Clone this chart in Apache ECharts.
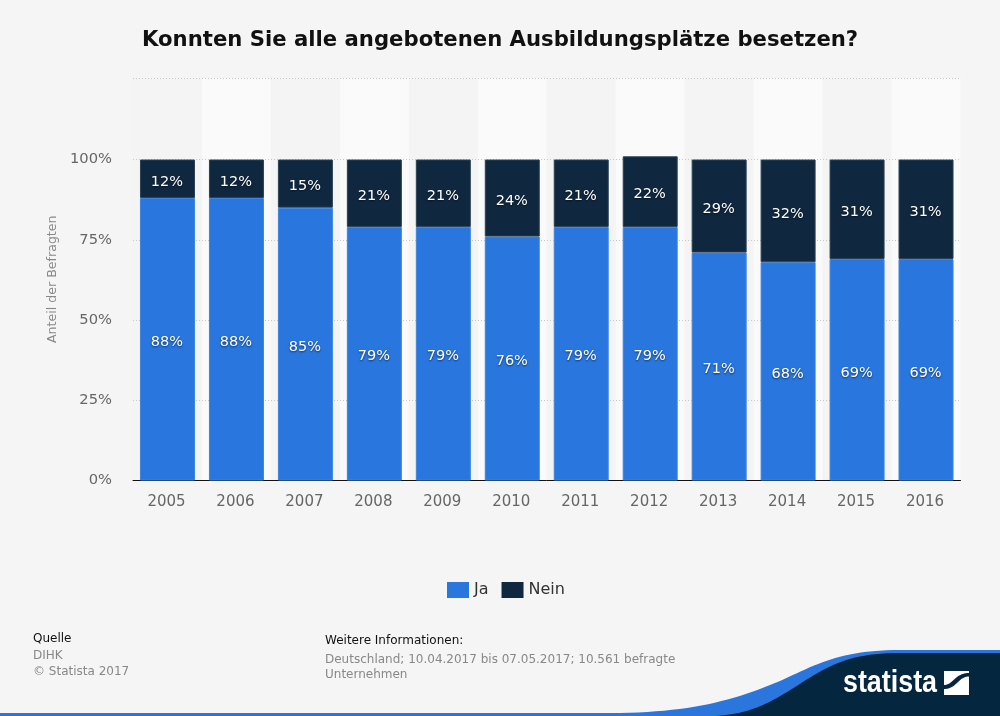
<!DOCTYPE html>
<html>
<head>
<meta charset="utf-8">
<style>
html, body { margin: 0; padding: 0; background: #f5f5f5; }
#main { width: 1000px; height: 716px; }
</style>
<script src="https://cdn.jsdelivr.net/npm/echarts@6/dist/echarts.min.js"></script>
</head>
<body>
<div id="main"></div>
<script>
const years = ['2005', '2006', '2007', '2008', '2009', '2010', '2011', '2012', '2013', '2014', '2015', '2016'];
const ja = [88, 88, 85, 79, 79, 76, 79, 79, 71, 68, 69, 69];
const nein = [12, 12, 15, 21, 21, 24, 21, 22, 29, 32, 31, 31];
const yTicks = [0, 25, 50, 75, 100];

const FONT = '"DejaVu Sans", sans-serif';
const BLUE = '#2976de';
const NAVY = '#10283f';
const FOOTER = '#04263f';

const barLabel = {
	show: true,
	position: 'inside',
	offset: [-0.5, 3],
	color: '#fff',
	fontFamily: FONT,
	fontSize: 14.5,
	textShadowColor: 'rgba(0,0,0,0.6)',
	textShadowBlur: 2,
	textShadowOffsetY: 1,
	formatter: p => p.value + '%'
};

const footText = (x, y, text, color) => ({
	type: 'text',
	x,
	y,
	style: { text, fill: color, font: '12px ' + FONT }
});

// graphic has no path type, so the footer curves are sampled into polygons
const curve = (from, segments) => {
	let pts = [from];
	let p0 = from;
	segments.forEach(([p1, p2, p3]) => {
		for (let i = 1; i <= 24; i++) {
			const t = i / 24, u = 1 - t;
			pts.push([
				u * u * u * p0[0] + 3 * u * u * t * p1[0] + 3 * u * t * t * p2[0] + t * t * t * p3[0],
				u * u * u * p0[1] + 3 * u * u * t * p1[1] + 3 * u * t * t * p2[1] + t * t * t * p3[1]
			]);
		}
		p0 = p3;
	});
	return pts;
};

const blueEdge = curve([610, 713], [
	[[690, 713], [735, 700], [780, 681]],
	[[815, 665], [840, 650], [900, 650]]
]);
const navyEdge = curve([715, 716], [
	[[750, 714], [770, 703], [795, 687]],
	[[825, 668], [845, 653], [900, 653]]
]);
const swoosh = curve([944, 685], [[[953, 685], [955, 673], [969, 673]]])
	.concat(curve([969, 676.5], [[[958, 676.5], [957, 689], [944, 689]]]));

const chart = echarts.init(document.getElementById('main'));
chart.setOption({
	animation: false,
	backgroundColor: '#f5f5f5',
	title: {
		text: 'Konnten Sie alle angebotenen Ausbildungsplätze besetzen?',
		left: 137,
		top: 25,
		textStyle: { fontFamily: FONT, fontSize: 21.2, fontWeight: 'bold', color: '#111' }
	},
	grid: { left: 133, width: 827.5, top: 78, height: 402.5 },
	legend: {
		left: 442,
		top: 577,
		icon: 'rect',
		itemWidth: 22,
		itemHeight: 16,
		itemGap: 13,
		selectedMode: false,
		itemStyle: { borderWidth: 0 },
		textStyle: { fontFamily: FONT, fontSize: 16, color: '#333', padding: [3, 0, 0, 0] },
		data: ['Ja', 'Nein']
	},
	xAxis: {
		type: 'category',
		data: years,
		z: 0,
		axisLine: { lineStyle: { color: '#111', width: 1 } },
		axisTick: { show: false },
		axisLabel: { margin: 14, color: '#666', fontFamily: FONT, fontSize: 15, padding: [0, 2, 0, 0] },
		splitArea: { show: true, areaStyle: { color: ['#f4f4f4', '#fafafa'] } }
	},
	yAxis: {
		type: 'value',
		min: 0,
		max: 125.4,
		interval: 25,
		z: 1,
		name: 'Anteil der Befragten',
		nameLocation: 'middle',
		nameGap: 71,
		nameTextStyle: { color: '#888', fontFamily: FONT, fontSize: 12.6 },
		axisLine: { show: false },
		axisTick: { show: false, customValues: yTicks.concat([125.4]) },
		axisLabel: {
			margin: 21,
			color: '#666',
			fontFamily: FONT,
			fontSize: 14.7,
			padding: [2, 0, 0, 0],
			verticalAlignMinLabel: 'middle',
			customValues: yTicks,
			formatter: v => v + '%'
		},
		splitLine: { show: true, showMinLine: false, lineStyle: { color: '#c8c8c8', type: [1, 2], width: 1 } }
	},
	series: [
		{
			name: 'Ja',
			type: 'bar',
			stack: 'a',
			barWidth: 55,
			data: ja,
			itemStyle: { color: BLUE, borderColor: '#3d84e0', borderWidth: 1 },
			label: barLabel
		},
		{
			name: 'Nein',
			type: 'bar',
			stack: 'a',
			barWidth: 55,
			data: nein,
			itemStyle: { color: NAVY, borderColor: '#2a4258', borderWidth: 1 },
			label: barLabel
		}
	],
	graphic: [
		footText(33, 633, 'Quelle', '#111'),
		footText(33, 650, 'DIHK', '#888'),
		footText(33, 666, '© Statista 2017', '#888'),
		footText(325, 635, 'Weitere Informationen:', '#111'),
		footText(325, 654, 'Deutschland; 10.04.2017 bis 07.05.2017; 10.561 befragte', '#888'),
		footText(325, 669, 'Unternehmen', '#888'),
		{ type: 'rect', shape: { x: 0, y: 713, width: 640, height: 3 }, style: { fill: '#2b76dc' } },
		{
			type: 'polygon',
			shape: { points: blueEdge.concat([[1000, 650], [1000, 716], [610, 716]]) },
			style: { fill: '#2b76dc' }
		},
		{
			type: 'polygon',
			shape: { points: navyEdge.concat([[1000, 653], [1000, 716]]) },
			style: { fill: FOOTER }
		},
		{
			type: 'text',
			x: 843,
			y: 668,
			scaleX: 0.866,
			style: { text: 'statista', fill: '#fff', font: 'bold 31px "Liberation Sans", sans-serif' }
		},
		{ type: 'rect', shape: { x: 944, y: 671, width: 25, height: 24 }, style: { fill: '#fff' } },
		{ type: 'polygon', shape: { points: swoosh }, style: { fill: FOOTER } }
	]
});
</script>
</body>
</html>
